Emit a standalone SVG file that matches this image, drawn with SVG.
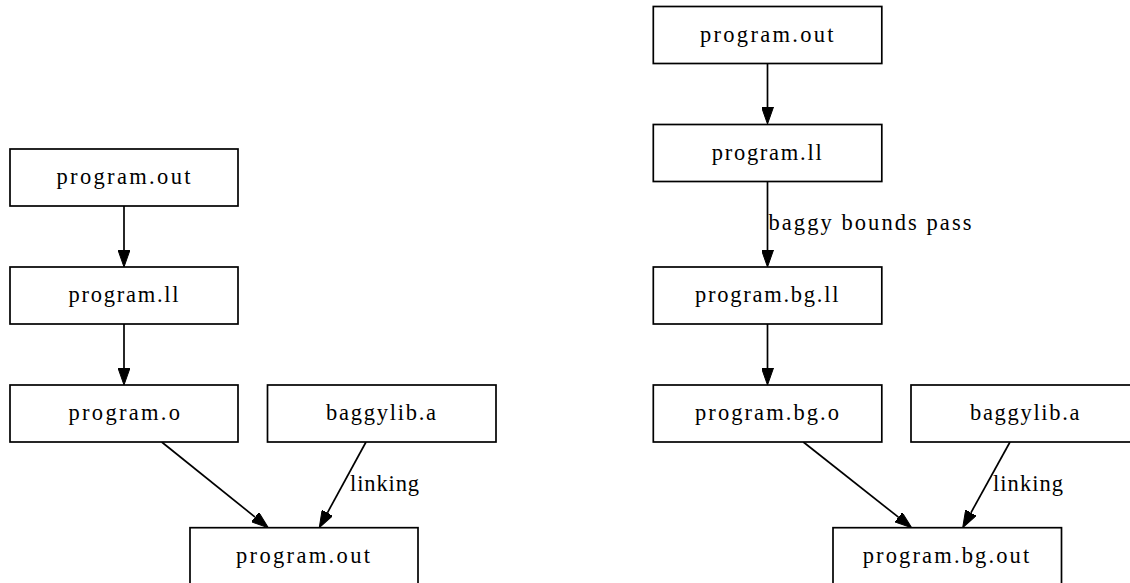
<svg xmlns="http://www.w3.org/2000/svg" width="1130" height="583" viewBox="0 0 1130 583">
<defs>
<style>
.box{fill:#fff;stroke:#000;stroke-width:1.7}
.lbl{font-family:"Liberation Serif","Times New Roman",serif;font-size:22.5px;fill:#000}
.edge{fill:none;stroke:#000;stroke-width:1.7}
</style>
<marker id="ah" viewBox="0 0 17 12" refX="0" refY="6" markerWidth="17" markerHeight="12" markerUnits="userSpaceOnUse" orient="auto">
<path d="M0,0 L17,6 L0,12 z" fill="#000" stroke="#000" stroke-width="1"/>
</marker>
</defs>
<rect width="1130" height="583" fill="#fff"/>
<g id="connectors">
<line class="edge" x1="124" y1="206" x2="124" y2="250" marker-end="url(#ah)"/>
<line class="edge" x1="124" y1="324" x2="124" y2="368" marker-end="url(#ah)"/>
<line class="edge" x1="161.7" y1="442" x2="255.1" y2="517.1" marker-end="url(#ah)"/>
<line class="edge" x1="366" y1="442" x2="327.4" y2="512.8" marker-end="url(#ah)"/>
<text class="lbl" x="350" y="491" textLength="69" lengthAdjust="spacing">linking</text>
<line class="edge" x1="767.5" y1="63" x2="767.5" y2="107" marker-end="url(#ah)"/>
<line class="edge" x1="767.5" y1="181" x2="767.5" y2="250" marker-end="url(#ah)"/>
<text class="lbl" x="768.5" y="230" textLength="203" lengthAdjust="spacing">baggy bounds pass</text>
<line class="edge" x1="767.5" y1="324" x2="767.5" y2="368" marker-end="url(#ah)"/>
<line class="edge" x1="803.3" y1="442" x2="898.4" y2="517.2" marker-end="url(#ah)"/>
<line class="edge" x1="1010" y1="442" x2="970.9" y2="512.8" marker-end="url(#ah)"/>
<text class="lbl" x="993" y="491" textLength="70" lengthAdjust="spacing">linking</text>
</g>
<g id="l_program_out">
<rect class="box" x="10" y="149" width="228" height="57"/>
<text class="lbl" x="56.5" y="184" textLength="134" lengthAdjust="spacing">program.out</text>
</g>
<g id="l_program_ll">
<rect class="box" x="10" y="267" width="228" height="57"/>
<text class="lbl" x="68.5" y="302" textLength="110" lengthAdjust="spacing">program.ll</text>
</g>
<g id="l_program_o">
<rect class="box" x="10" y="385" width="228" height="57"/>
<text class="lbl" x="68.5" y="420" textLength="111.5" lengthAdjust="spacing">program.o</text>
</g>
<g id="l_baggylib_a">
<rect class="box" x="267.5" y="385" width="228.5" height="57"/>
<text class="lbl" x="326" y="420" textLength="110" lengthAdjust="spacing">baggylib.a</text>
</g>
<g id="l_program_out_final">
<rect class="box" x="190" y="527.7" width="228" height="57"/>
<text class="lbl" x="236" y="563" textLength="134" lengthAdjust="spacing">program.out</text>
</g>
<g id="r_program_out">
<rect class="box" x="653.3" y="6.5" width="228.5" height="57"/>
<text class="lbl" x="700" y="42" textLength="133.5" lengthAdjust="spacing">program.out</text>
</g>
<g id="r_program_ll">
<rect class="box" x="653.3" y="124.5" width="228.5" height="57"/>
<text class="lbl" x="711.7" y="160" textLength="110" lengthAdjust="spacing">program.ll</text>
</g>
<g id="r_program_bg_ll">
<rect class="box" x="653.3" y="267" width="228.5" height="57"/>
<text class="lbl" x="695" y="302" textLength="143.5" lengthAdjust="spacing">program.bg.ll</text>
</g>
<g id="r_program_bg_o">
<rect class="box" x="653.3" y="385" width="228.5" height="57"/>
<text class="lbl" x="695" y="420" textLength="144" lengthAdjust="spacing">program.bg.o</text>
</g>
<g id="r_baggylib_a">
<rect class="box" x="911" y="385" width="229" height="57"/>
<text class="lbl" x="970" y="420" textLength="109.5" lengthAdjust="spacing">baggylib.a</text>
</g>
<g id="r_program_bg_out">
<rect class="box" x="833" y="527.7" width="228.5" height="57"/>
<text class="lbl" x="862.7" y="563" textLength="166.5" lengthAdjust="spacing">program.bg.out</text>
</g>
</svg>
